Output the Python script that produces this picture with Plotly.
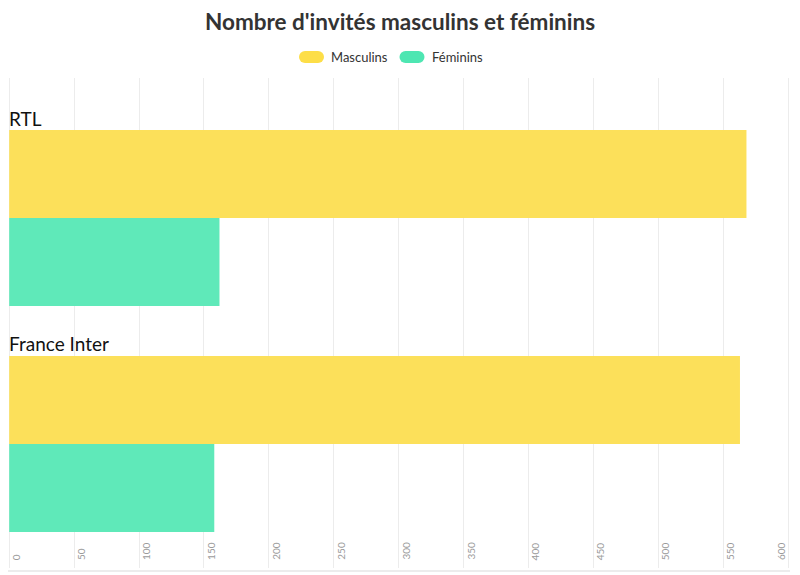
import plotly.graph_objects as go

categories = ["RTL", "France Inter"]
masculins = [568, 563]
feminins = [162, 158]
series_names = ["Masculins", "Féminins"]
bar_colors = ["rgba(252,224,90,1)", "rgba(95,233,185,1)"]
legend_colors = ["rgb(253,222,72)", "rgb(78,230,178)"]
tick_vals = list(range(0, 601, 50))
tick_labels = [str(v) for v in tick_vals]

OFF = 8  # page body margin
W, H = 800 - OFF, 575 - OFF
# plot area in reference (page) pixels
PL, PR, PT, PB = OFF, 800, 78, 568
L, R, T, B = PL - OFF, W - (PR - OFF), PT - OFF, H - (PB - OFF)
pw, ph = PR - PL, PB - PT
X0PX, X600PX = 9.2, 788.0
upp = 600 / (X600PX - X0PX)
xr = [-(X0PX - PL) * upp, 600 + (PR - X600PX) * upp]

def px_x(p):
    return (p - PL) / pw

def px_y(p):
    return (PB - p) / ph

fig = go.Figure()
ypos = list(range(len(categories)))
for name, vals, col in zip(series_names, [masculins, feminins], bar_colors):
    fig.add_trace(go.Bar(y=ypos, x=vals, orientation="h", name=name,
                         marker=dict(color=col, line=dict(width=0)),
                         showlegend=False))

annotations = []
for i, c in enumerate(categories):
    annotations.append(dict(x=0, y=i - 0.4425, xref="x", yref="y", text=c,
                            showarrow=False, xanchor="left", yanchor="middle",
                            xshift=-2,
                            font=dict(family="Lato", size=19, color="#111")))
annotations.append(dict(x=px_x(400), xref="paper", y=px_y(22), yref="paper",
                        text="<b>Nombre d'invités masculins et féminins</b>",
                        showarrow=False, xanchor="center", yanchor="middle",
                        font=dict(family="Lato", size=22.5, color="#333")))

# x tick labels (rotated), drawn as annotations
for k, (v, t) in enumerate(zip(tick_vals, tick_labels)):
    shift = -7 if k == len(tick_vals) - 1 else 7
    annotations.append(dict(x=v, xref="x", y=px_y(562), yref="paper", text=t,
                            textangle=-90, showarrow=False, xanchor="center",
                            yanchor="bottom", xshift=shift,
                            font=dict(family="Lato", size=10, color="#9a9a9a")))

shapes = []
legend_items = [(311.5, 329, series_names[0], legend_colors[0]),
                (412, 430, series_names[1], legend_colors[1])]
for cx, tx, name, col in legend_items:
    common = dict(xref="paper", yref="paper", xsizemode="pixel", ysizemode="pixel",
                  xanchor=px_x(cx), yanchor=px_y(57), fillcolor=col, line=dict(width=0))
    shapes.append(dict(type="rect", x0=-6.5, x1=6.5, y0=-6, y1=6, **common))
    shapes.append(dict(type="circle", x0=-12.5, x1=-0.5, y0=-6, y1=6, **common))
    shapes.append(dict(type="circle", x0=0.5, x1=12.5, y0=-6, y1=6, **common))
    annotations.append(dict(x=px_x(tx), y=px_y(57), xref="paper", yref="paper",
                            text=name, showarrow=False, xanchor="left", yanchor="middle",
                            font=dict(family="Lato", size=13, color="#333")))

shapes.append(dict(type="line", xref="paper", yref="paper",
                   x0=px_x(OFF), x1=px_x(790), y0=px_y(571), y1=px_y(571),
                   line=dict(color="#e6e6e6", width=1.5)))

fig.update_layout(
    width=W, height=H,
    margin=dict(l=L, r=R, t=T, b=B, pad=0, autoexpand=False),
    paper_bgcolor="white", plot_bgcolor="white",
    barmode="group", bargap=0.221, bargroupgap=0,
    showlegend=False,
    xaxis=dict(range=xr, tickvals=tick_vals, showticklabels=False, automargin=False,
               showgrid=True, gridcolor="#ececec", gridwidth=1,
               zeroline=False, showline=False, ticks=""),
    yaxis=dict(range=[1.5487, -0.6195], showticklabels=False, showgrid=False,
               automargin=False, zeroline=False, showline=False),
    annotations=annotations, shapes=shapes,
)

fig.write_html("out.html")
